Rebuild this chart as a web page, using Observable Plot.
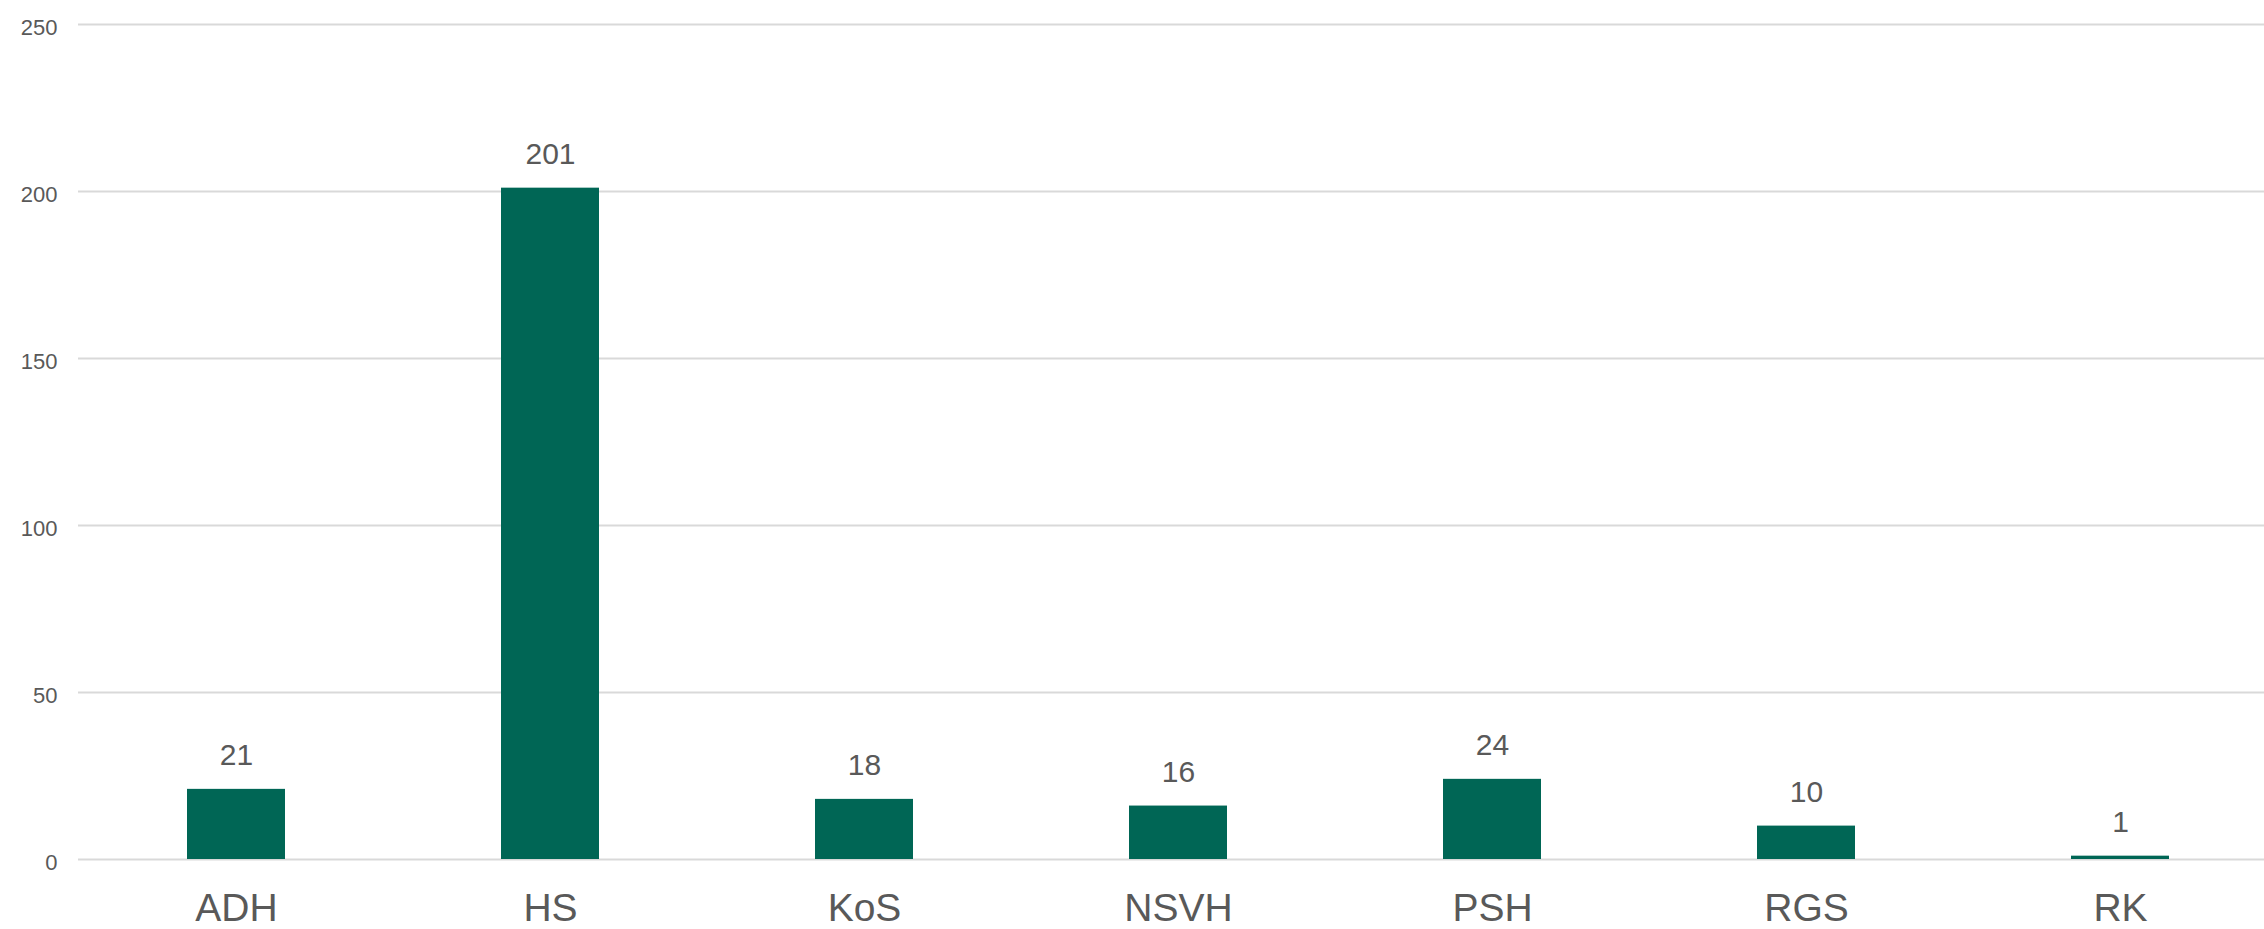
<!DOCTYPE html>
<html>
<head>
<meta charset="utf-8">
<script src="https://cdn.jsdelivr.net/npm/d3@7"></script>
<script src="https://cdn.jsdelivr.net/npm/@observablehq/plot@0.6"></script>
<style>
  html, body { margin: 0; padding: 0; background: #ffffff; }
  #chart { width: 2264px; height: 929px; overflow: hidden; }
</style>
</head>
<body>
<div id="chart"></div>
<script>
const categories = ["ADH", "HS", "KoS", "NSVH", "PSH", "RGS", "RK"];
const values = [21, 201, 18, 16, 24, 10, 1];
const yTicks = [0, 50, 100, 150, 200, 250];

const data = categories.map((c, i) => ({category: c, value: values[i]}));

const chart = Plot.plot({
  width: 2264,
  height: 929,
  marginLeft: 78,
  marginRight: 0,
  marginTop: 24,
  marginBottom: 70,
  style: {fontFamily: "'Liberation Sans', Arial, sans-serif", background: "#ffffff"},
  x: {domain: categories, range: [76, 2279], paddingInner: 0.689, paddingOuter: 0.3445, align: 0.5, axis: null},
  y: {domain: [0, 250], axis: null},
  marks: [
    Plot.ruleY(yTicks, {stroke: "#d9d9d9", strokeWidth: 2}),
    Plot.barY(data, {x: "category", y: "value", fill: "#006655"}),
    Plot.text(data, {x: "category", y: "value", text: d => String(d.value), lineAnchor: "bottom", dy: -24, fontSize: 30, fill: "#595959"}),
    Plot.text(data, {x: "category", frameAnchor: "bottom", text: "category", lineAnchor: "bottom", dy: 61, fontSize: 39, fill: "#595959"}),
    Plot.axisY(yTicks, {tickSize: 0, tickPadding: 21, fontSize: 22, fill: "#595959", dy: 3, label: null})
  ]
});
document.getElementById("chart").appendChild(chart);
</script>
</body>
</html>
